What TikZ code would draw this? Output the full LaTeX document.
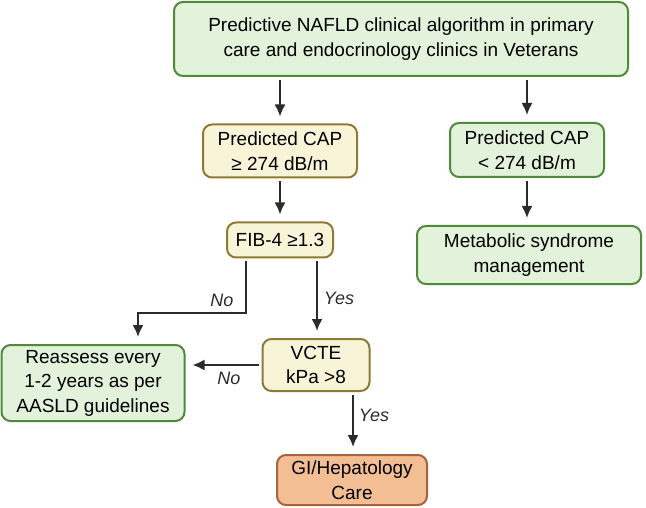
\documentclass[tikz,border=0pt]{standalone}
\usepackage{fontspec}
\setmainfont{Liberation Sans}
\usetikzlibrary{arrows.meta}
\definecolor{greenfill}{HTML}{E3F2DA}
\definecolor{greenline}{HTML}{4F8A3B}
\definecolor{yellowfill}{HTML}{F8F4D8}
\definecolor{yellowline}{HTML}{8F7A35}
\definecolor{orangefill}{HTML}{F4BE94}
\definecolor{orangeline}{HTML}{A4633A}
\definecolor{arrowgray}{HTML}{2B2B2B}
\begin{document}
\begin{tikzpicture}[x=1pt,y=-1pt,
  box/.style={draw,line width=2pt,rounded corners=9pt,align=center,inner sep=0pt,
    font=\fontsize{19}{24.5}\selectfont},
  greenbox/.style={box,fill=greenfill,draw=greenline},
  yellowbox/.style={box,fill=yellowfill,draw=yellowline},
  orangebox/.style={box,fill=orangefill,draw=orangeline},
  flow/.style={draw=arrowgray,line width=1.9pt,-{Latex[length=12pt,width=11pt]},
    shorten >=7pt,shorten <=3pt},
  answer/.style={font=\fontsize{18}{20}\selectfont\itshape,text=arrowgray}]
\useasboundingbox (0,0) rectangle (646,508);
% boxes
\node[greenbox,minimum width=454pt,minimum height=74pt] (top) at (401,39)
  {Predictive NAFLD clinical algorithm in primary\\care and endocrinology clinics in Veterans};
\node[yellowbox,minimum width=154pt,minimum height=53pt] (capyes) at (280,151)
  {Predicted CAP\\≥ 274 dB/m};
\node[greenbox,minimum width=154pt,minimum height=54pt] (capno) at (527,150)
  {Predicted CAP\\< 274 dB/m};
\node[yellowbox,minimum width=106pt,minimum height=35pt] (fib) at (280,240)
  {FIB-4 ≥1.3};
\node[greenbox,minimum width=224pt,minimum height=58pt] (metab) at (529,255)
  {Metabolic syndrome\\management};
\node[greenbox,minimum width=183pt,minimum height=76pt] (reassess) at (93,383)
  {Reassess every\\1-2 years as per\\AASLD guidelines};
\node[yellowbox,minimum width=107pt,minimum height=52pt] (vcte) at (316,365)
  {VCTE\\kPa >8};
\node[orangebox,minimum width=150pt,minimum height=50pt] (gi) at (352,480)
  {GI/Hepatology\\Care};
% connectors
\coordinate (nobend) at (246,313);
\draw[flow] (top.south -| capyes.north) -- (capyes.north);
\draw[flow] (top.south -| capno.north) -- (capno.north);
\draw[flow] (capyes) -- (fib);
\draw[flow] (capno) -- (metab.north -| capno.south);
\draw[flow,rounded corners=0pt] (fib.south -| nobend) -- (nobend) -| (reassess.north -| 138,0);
\draw[flow] (fib.south -| 317,0) -- (vcte.north -| 317,0);
\draw[flow] (vcte.west) -- (vcte.west -| reassess.east);
\draw[flow] (vcte.south -| 353,0) -- (gi.north -| 353,0);
% labels
\node[answer] (no1) at (222,300) {No};
\node[answer] (yes1) at (339,298) {Yes};
\node[answer] (no2) at (229,378) {No};
\node[answer] (yes2) at (374,415) {Yes};
\end{tikzpicture}
\end{document}
